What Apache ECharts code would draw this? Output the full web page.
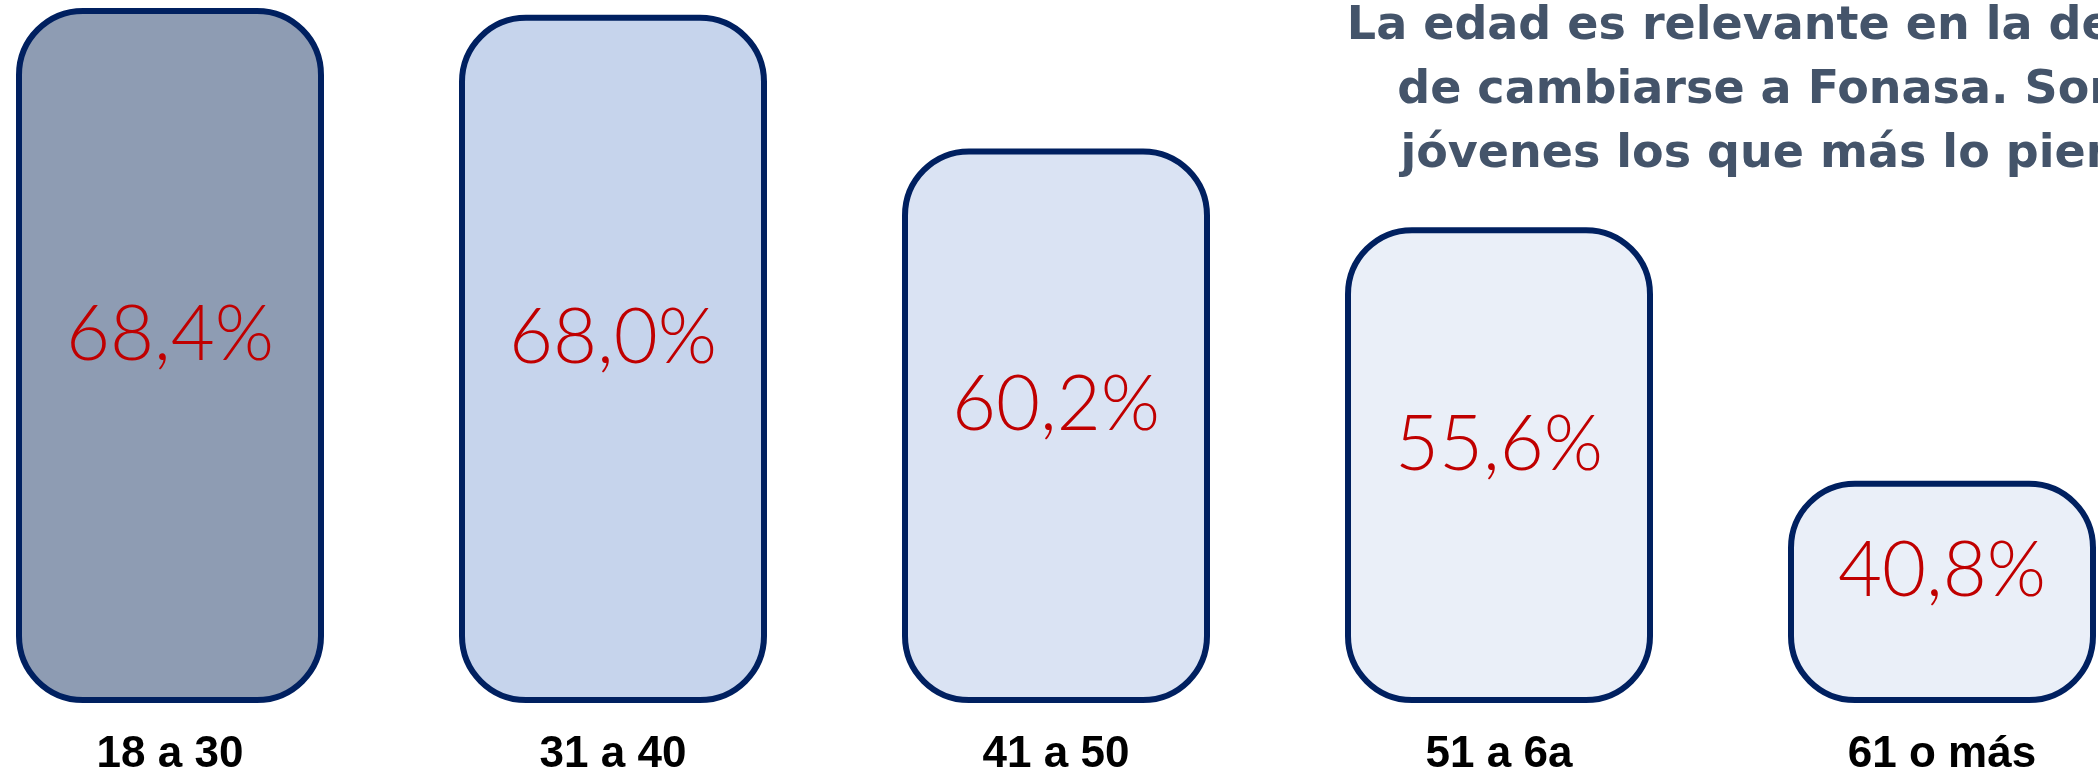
<!DOCTYPE html>
<html>
<head>
<meta charset="utf-8">
<script src="https://cdn.jsdelivr.net/npm/echarts@6/dist/echarts.min.js"></script>
<style>html,body{margin:0;padding:0;background:#fff;}#chart{width:2098px;height:777px;}</style>
</head>
<body>
<div id="chart"></div>
<script>
const categories = ['18 a 30', '31 a 40', '41 a 50', '51 a 6a', '61 o más'];
const values = [68.4, 68.0, 60.2, 55.6, 40.8];
const fillColors = ['#8E9CB3', '#C6D4EC', '#DAE3F3', '#EAEFF8', '#EAEFF8'];
const titleText = 'La edad es relevante en la decisión\nde cambiarse a Fonasa. Son los\njóvenes los que más lo piensan';

const chart = echarts.init(document.getElementById('chart'));
chart.setOption({
  animation: false,
  backgroundColor: '#ffffff',
  title: {
    text: titleText,
    left: 1800,
    top: -10,
    textAlign: 'center',
    textStyle: {
      fontFamily: 'DejaVu Sans',
      fontWeight: 'bold',
      fontSize: 46,
      lineHeight: 64,
      color: '#44546A',
      align: 'center'
    }
  },
  grid: { left: 170, right: 156, top: 8, bottom: 63, containLabel: false },
  xAxis: {
    type: 'category',
    data: categories,
    boundaryGap: false,
    axisLine: { show: false },
    axisTick: { show: false },
    axisLabel: {
      margin: 33,
      fontFamily: 'Liberation Sans',
      fontWeight: 'bold',
      fontSize: 44,
      color: '#000000'
    }
  },
  yAxis: {
    type: 'value',
    min: 28,
    max: 68.4,
    show: false,
    splitLine: { show: false }
  },
  series: [{
    type: 'bar',
    barWidth: 308,
    data: values.map((v, i) => ({
      value: v,
      itemStyle: { color: fillColors[i] }
    })),
    itemStyle: {
      borderColor: '#002060',
      borderWidth: 6,
      borderRadius: 64
    },
    label: {
      show: true,
      position: 'inside',
      offset: [0, -20],
      formatter: p => p.value.toFixed(1).replace('.', ',') + '%',
      fontFamily: 'Lato',
      fontWeight: 300,
      fontSize: 76,
      color: '#C00000'
    }
  }]
});
</script>
</body>
</html>
